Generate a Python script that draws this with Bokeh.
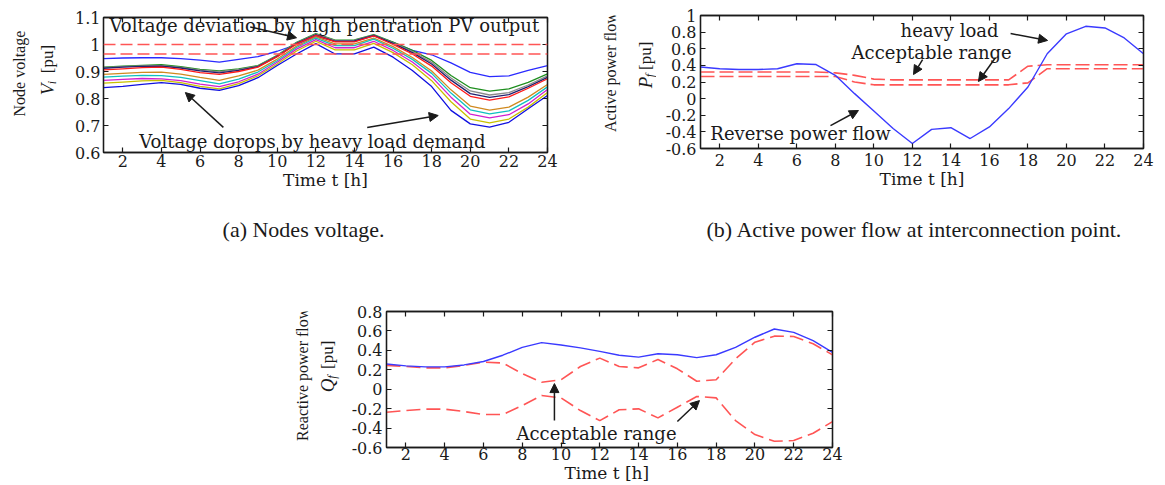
import math
from bokeh.plotting import figure
from bokeh.models import (Label, Arrow, NormalHead, LinearAxis, FixedTicker,
                          CustomJSTickFormatter, Range1d, Span)
from bokeh.layouts import column, row
from bokeh.embed import file_html
from bokeh.resources import INLINE

# ---------------- data ----------------
hours = list(range(1, 25))
x_ticks = [2, 4, 6, 8, 10, 12, 14, 16, 18, 20, 22, 24]
volt_ticks = [0.6, 0.7, 0.8, 0.9, 1.0, 1.1]
pf_ticks = [-0.6, -0.4, -0.2, 0.0, 0.2, 0.4, 0.6, 0.8, 1.0]
qf_ticks = [-0.6, -0.4, -0.2, 0.0, 0.2, 0.4, 0.6, 0.8]

# (a) node voltages [pu]
volt_limits = [1.0, 0.965]
v_node1 = [0.948, 0.950, 0.951, 0.951, 0.948, 0.942, 0.935, 0.945, 0.955, 0.975, 1.000, 1.030,
           1.012, 1.012, 1.032, 1.008, 0.978, 0.962, 0.932, 0.897, 0.881, 0.884, 0.904, 0.922]
v_node2 = [0.916, 0.920, 0.923, 0.925, 0.918, 0.908, 0.902, 0.910, 0.922, 0.960, 1.008, 1.040,
           1.016, 1.017, 1.037, 1.009, 0.978, 0.941, 0.885, 0.840, 0.827, 0.836, 0.860, 0.891]
v_node3 = [0.914, 0.918, 0.921, 0.922, 0.915, 0.905, 0.899, 0.907, 0.920, 0.958, 1.006, 1.038,
           1.014, 1.015, 1.035, 1.006, 0.974, 0.934, 0.876, 0.828, 0.813, 0.822, 0.850, 0.884]
v_node4 = [0.912, 0.916, 0.919, 0.920, 0.913, 0.902, 0.895, 0.904, 0.918, 0.956, 1.004, 1.036,
           1.012, 1.013, 1.034, 1.004, 0.970, 0.928, 0.868, 0.818, 0.804, 0.814, 0.844, 0.878]
v_node5 = [0.906, 0.910, 0.914, 0.916, 0.908, 0.896, 0.889, 0.900, 0.916, 0.955, 1.002, 1.034,
           1.010, 1.010, 1.032, 1.000, 0.965, 0.920, 0.858, 0.808, 0.794, 0.806, 0.838, 0.873]
v_node6 = [0.889, 0.893, 0.897, 0.898, 0.890, 0.878, 0.867, 0.884, 0.905, 0.946, 0.994, 1.028,
           1.002, 1.002, 1.024, 0.992, 0.952, 0.902, 0.832, 0.772, 0.757, 0.768, 0.805, 0.852]
v_node7 = [0.879, 0.883, 0.886, 0.885, 0.878, 0.866, 0.854, 0.872, 0.898, 0.940, 0.989, 1.024,
           0.996, 0.996, 1.020, 0.986, 0.945, 0.893, 0.820, 0.758, 0.743, 0.754, 0.793, 0.843]
v_node8 = [0.867, 0.871, 0.874, 0.873, 0.866, 0.853, 0.844, 0.862, 0.890, 0.934, 0.983, 1.018,
           0.988, 0.988, 1.012, 0.978, 0.935, 0.880, 0.805, 0.742, 0.728, 0.740, 0.780, 0.833]
v_node9 = [0.857, 0.861, 0.865, 0.867, 0.859, 0.845, 0.836, 0.855, 0.884, 0.928, 0.976, 1.012,
           0.980, 0.980, 1.004, 0.970, 0.925, 0.866, 0.788, 0.724, 0.710, 0.724, 0.768, 0.822]
v_node10 = [0.840, 0.845, 0.852, 0.859, 0.852, 0.838, 0.830, 0.848, 0.877, 0.922, 0.965, 1.003,
            0.965, 0.965, 0.990, 0.953, 0.904, 0.844, 0.756, 0.706, 0.694, 0.712, 0.762, 0.811]
node_series = [v_node1, v_node2, v_node3, v_node4, v_node5, v_node6, v_node7, v_node8, v_node9, v_node10]

# (b) active power flow at interconnection point [pu]
pf_flow = [0.38, 0.36, 0.35, 0.35, 0.36, 0.42, 0.41, 0.28, 0.06, -0.15, -0.36, -0.54,
           -0.37, -0.35, -0.48, -0.34, -0.12, 0.14, 0.54, 0.78, 0.87, 0.85, 0.73, 0.54]
pf_upper = [0.32, 0.32, 0.32, 0.32, 0.32, 0.32, 0.32, 0.31, 0.28, 0.235, 0.226, 0.226,
            0.226, 0.226, 0.226, 0.226, 0.226, 0.39, 0.407, 0.407, 0.407, 0.407, 0.407, 0.407]
pf_lower = [0.266, 0.266, 0.266, 0.266, 0.266, 0.266, 0.266, 0.266, 0.20, 0.166, 0.166, 0.166,
            0.166, 0.166, 0.166, 0.166, 0.166, 0.19, 0.36, 0.36, 0.36, 0.36, 0.36, 0.36]

# (c) reactive power flow [pu]
qf_flow = [0.26, 0.24, 0.23, 0.23, 0.25, 0.285, 0.35, 0.43, 0.48, 0.455, 0.425, 0.39,
           0.35, 0.33, 0.365, 0.355, 0.325, 0.355, 0.43, 0.535, 0.62, 0.585, 0.50, 0.38]
qf_upper = [0.245, 0.235, 0.22, 0.22, 0.245, 0.278, 0.27, 0.16, 0.072, 0.097, 0.234, 0.32,
            0.234, 0.22, 0.306, 0.21, 0.082, 0.097, 0.313, 0.484, 0.546, 0.543, 0.468, 0.354]
qf_lower = [-0.237, -0.22, -0.205, -0.205, -0.23, -0.26, -0.26, -0.168, -0.065, -0.089, -0.22, -0.323,
            -0.212, -0.202, -0.295, -0.185, -0.075, -0.089, -0.323, -0.467, -0.536, -0.528, -0.453, -0.333]

# ---------------- styles ----------------
SERIF = "DejaVu Serif"
TIMES = "Liberation Serif"
INK = "#1a1a1a"
BLUE = "#3a3aff"
DASH_RED = "#ff5555"
node_colors = ["#2a2aff", "#1f8f1f", "#8a8a8a", "#202070", "#ff1a1a",
               "#d08a20", "#10c0c0", "#d020d0", "#c8c000", "#1010e0"]


def make_panel(ymin, ymax, yticks, bl, br, bt, bb, fw, fh, xstand, ystand, xlabel):
    p = figure(x_range=Range1d(1, 24), y_range=Range1d(ymin, ymax),
               frame_width=fw, frame_height=fh,
               min_border_left=bl, min_border_right=br,
               min_border_top=bt, min_border_bottom=bb, title=None,
               output_backend="svg", toolbar_location=None)
    p.background_fill_color = "white"
    p.border_fill_color = "white"
    p.grid.visible = False
    p.outline_line_color = INK
    p.outline_line_width = 1.3
    # tick-only axes on top and right (ticks as minor ticks: no labels)
    top = LinearAxis(ticker=FixedTicker(ticks=[], minor_ticks=x_ticks))
    right = LinearAxis(ticker=FixedTicker(ticks=[], minor_ticks=yticks))
    for ax in (top, right):
        ax.minor_tick_in = 5
        ax.minor_tick_out = 0
        ax.major_tick_in = 0
        ax.major_tick_out = 0
        ax.minor_tick_line_color = INK
        ax.minor_tick_line_width = 1.2
        ax.axis_line_color = INK
        ax.axis_line_width = 1.3
        ax.major_label_standoff = 0
    p.add_layout(top, "above")
    p.add_layout(right, "right")
    bottom_ax = p.below[0]
    left_ax = p.left[0]
    for ax, ticks in [(bottom_ax, x_ticks), (left_ax, yticks)]:
        ax.ticker = FixedTicker(ticks=ticks, minor_ticks=[])
        ax.major_tick_in = 5
        ax.major_tick_out = 0
        ax.minor_tick_in = 0
        ax.minor_tick_out = 0
        ax.axis_line_color = INK
        ax.axis_line_width = 1.3
        ax.major_tick_line_color = INK
        ax.major_tick_line_width = 1.2
        ax.major_label_text_font = SERIF
        ax.major_label_text_color = INK
        ax.major_label_text_font_size = "16px"
    left_ax.formatter = CustomJSTickFormatter(code="return Number(tick.toFixed(1)).toString();")
    bottom_ax.major_label_standoff = xstand
    left_ax.major_label_standoff = ystand
    bottom_ax.axis_label = xlabel
    bottom_ax.axis_label_text_font = SERIF
    bottom_ax.axis_label_text_font_size = "17px"
    bottom_ax.axis_label_text_font_style = "normal"
    bottom_ax.axis_label_text_color = INK
    bottom_ax.axis_label_standoff = 0
    return p


def text_fig(w, h):
    p = figure(width=w, height=h, x_range=Range1d(0, w), y_range=Range1d(h, 0),
               x_axis_type=None, y_axis_type=None, min_border=0, title=None,
               output_backend="svg", toolbar_location=None)
    p.outline_line_color = None
    p.background_fill_color = "white"
    p.border_fill_color = "white"
    return p


def put(p, x, y, text, font=TIMES, size=16, style="normal", angle=0.0):
    p.add_layout(Label(x=x, y=y, text=text, text_font=font, text_font_size=f"{size}px",
                       text_font_style=style, text_align="center", text_baseline="middle",
                       angle=angle, text_color=INK))


def ylabel_pair(p, X1, Yc1, title, X2, Yc_sym, sym, Yc_sub, sub, Yc_pu):
    up = math.pi / 2
    put(p, X1, Yc1, title, size=16, angle=up)
    put(p, X2, Yc_sym, sym, size=19, style="italic", angle=up)
    put(p, X2 + 4, Yc_sub, sub, size=12, style="italic", angle=up)
    put(p, X2, Yc_pu, "[pu]", size=17, angle=up)


def data_text(p, x, y, text, size=18):
    p.add_layout(Label(x=x, y=y, text=text, text_font=SERIF, text_font_size=f"{size}px",
                       text_align="center", text_baseline="middle", text_color=INK))


def arrow(p, xs, ys, xe, ye):
    p.add_layout(Arrow(end=NormalHead(size=9, fill_color=INK, line_color=INK),
                       x_start=xs, y_start=ys, x_end=xe, y_end=ye,
                       line_color=INK, line_width=1.5))


# ---------------- panel (a) ----------------
pa = make_panel(0.6, 1.1, volt_ticks, 41, 43, 17, 43, 444, 135, 2, 3, "Time t [h]")
for lim in volt_limits:
    pa.add_layout(Span(location=lim, dimension="width", line_color=DASH_RED,
                       line_dash="12 5", line_width=1.6))
for vals, col in zip(node_series, node_colors):
    pa.line(hours, vals, line_color=col, line_width=1.3)
data_text(pa, 12.44, 1.07, "Voltage deviation by high pentration PV output")
data_text(pa, 11.82, 0.641, "Voltage dorops by heavy load demand")
arrow(pa, 8.6, 1.065, 11.0, 1.025)
arrow(pa, 7.21, 0.693, 5.24, 0.822)
arrow(pa, 14.66, 0.693, 18.34, 0.737)

ylab_a = text_fig(62, 195)
ylabel_pair(ylab_a, 19, 81, "Node voltage", 47, 104, "V", 94, "i", 60)
cap_a = text_fig(590, 95)
put(cap_a, 303, 34, "(a) Nodes voltage.", size=22)

# ---------------- panel (b) ----------------
pb = make_panel(-0.6, 1.0, pf_ticks, 44, 22, 15, 47, 443, 133, 5, 4, "Time t [h]")
pb.line(hours, pf_upper, line_color=DASH_RED, line_dash="14 5", line_width=1.6)
pb.line(hours, pf_lower, line_color=DASH_RED, line_dash="14 5", line_width=1.6)
pb.line(hours, pf_flow, line_color=BLUE, line_width=1.4)
data_text(pb, 13.93, 0.82, "heavy load")
data_text(pb, 13.0, 0.55, "Acceptable range")
data_text(pb, 6.19, -0.42, "Reverse power flow")
arrow(pb, 17.10, 0.783, 19.02, 0.70)
arrow(pb, 12.53, 0.47, 12.06, 0.29)
arrow(pb, 16.32, 0.495, 15.43, 0.206)
arrow(pb, 7.75, -0.324, 9.2, -0.143)

ylab_b = text_fig(66, 195)
ylabel_pair(ylab_b, 20, 83, "Active power flow", 55, 98, "P", 88, "f", 59)
cap_b = text_fig(575, 95)
put(cap_b, 324, 34, "(b) Active power flow at interconnection point.", size=22)

# ---------------- panel (c) ----------------
pc = make_panel(-0.6, 0.8, qf_ticks, 46, 333, 21, 38, 446, 136, 0, 4, "Time t  [h]")
pc.line(hours, qf_upper, line_color=DASH_RED, line_dash="14 6", line_width=1.6)
pc.line(hours, qf_lower, line_color=DASH_RED, line_dash="14 6", line_width=1.6)
pc.line(hours, qf_flow, line_color=BLUE, line_width=1.4)
data_text(pc, 11.83, -0.456, "Acceptable range")
arrow(pc, 9.66, -0.323, 9.66, 0.058)
arrow(pc, 16.0, -0.333, 17.14, -0.117)

ylab_c = text_fig(340, 195)
ylabel_pair(ylab_c, 302, 90, "Reactive power flow", 327, 106, "Q", 94, "f", 62)

col_a = column(row(ylab_a, pa), cap_a)
col_b = column(row(ylab_b, pb), cap_b)
layout = column(row(col_a, col_b), row(ylab_c, pc))
open("out.html", "w").write(file_html(layout, INLINE))
